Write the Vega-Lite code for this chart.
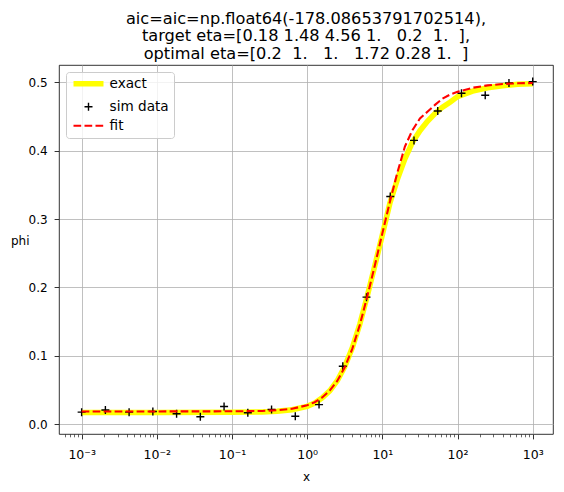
{
  "$schema": "https://vega.github.io/schema/vega-lite/v6.json",
  "width": 494,
  "height": 369,
  "autosize": {"type": "none"},
  "padding": {"left": 59, "top": 65, "right": 11, "bottom": 58},
  "background": "white",
  "config": {
    "font": "DejaVu Sans",
    "view": {"stroke": "black", "strokeWidth": 0.8}
  },
  "title": {
    "text": [
      "aic=aic=np.float64(-178.08653791702514),",
      "target eta=[0.18\u00a01.48\u00a04.56\u00a01.\u00a0\u00a0\u00a00.2\u00a0\u00a01.\u00a0\u00a0],",
      "optimal eta=[0.2\u00a0\u00a01.\u00a0\u00a0\u00a01.\u00a0\u00a0\u00a01.72\u00a00.28\u00a01.\u00a0\u00a0]"
    ],
    "font": "DejaVu Sans",
    "fontSize": 16.2,
    "fontWeight": "normal",
    "color": "black",
    "anchor": "middle",
    "lineHeight": 17.5,
    "offset": 3
  },
  "data": {
    "values": [
      {"series": "exact", "x": 0.001, "phi": 0.017},
      {"series": "exact", "x": 0.01, "phi": 0.017},
      {"series": "exact", "x": 0.1, "phi": 0.0172},
      {"series": "exact", "x": 0.2512, "phi": 0.0178},
      {"series": "exact", "x": 0.3981, "phi": 0.0188},
      {"series": "exact", "x": 0.631, "phi": 0.021},
      {"series": "exact", "x": 1, "phi": 0.026},
      {"series": "exact", "x": 1.2589, "phi": 0.0309},
      {"series": "exact", "x": 1.5849, "phi": 0.0384},
      {"series": "exact", "x": 1.9953, "phi": 0.0486},
      {"series": "exact", "x": 2.5119, "phi": 0.0634},
      {"series": "exact", "x": 3.1623, "phi": 0.0841},
      {"series": "exact", "x": 3.9811, "phi": 0.1115},
      {"series": "exact", "x": 5.0119, "phi": 0.146},
      {"series": "exact", "x": 6.3096, "phi": 0.1876},
      {"series": "exact", "x": 7.9433, "phi": 0.2317},
      {"series": "exact", "x": 10, "phi": 0.2768},
      {"series": "exact", "x": 12.589, "phi": 0.323},
      {"series": "exact", "x": 15.849, "phi": 0.358},
      {"series": "exact", "x": 19.953, "phi": 0.388},
      {"series": "exact", "x": 25.119, "phi": 0.4121},
      {"series": "exact", "x": 31.623, "phi": 0.4292},
      {"series": "exact", "x": 39.811, "phi": 0.443},
      {"series": "exact", "x": 50.119, "phi": 0.4544},
      {"series": "exact", "x": 63.096, "phi": 0.4635},
      {"series": "exact", "x": 79.433, "phi": 0.4709},
      {"series": "exact", "x": 100, "phi": 0.479},
      {"series": "exact", "x": 158.49, "phi": 0.487},
      {"series": "exact", "x": 251.19, "phi": 0.492},
      {"series": "exact", "x": 398.11, "phi": 0.495},
      {"series": "exact", "x": 630.96, "phi": 0.497},
      {"series": "exact", "x": 1000, "phi": 0.498},
      {"series": "sim data", "x": 0.001, "phi": 0.0175},
      {"series": "sim data", "x": 0.00207, "phi": 0.0205},
      {"series": "sim data", "x": 0.00428, "phi": 0.0175},
      {"series": "sim data", "x": 0.00886, "phi": 0.0185},
      {"series": "sim data", "x": 0.01833, "phi": 0.0151},
      {"series": "sim data", "x": 0.03793, "phi": 0.0107},
      {"series": "sim data", "x": 0.07848, "phi": 0.0258},
      {"series": "sim data", "x": 0.16238, "phi": 0.0166},
      {"series": "sim data", "x": 0.33598, "phi": 0.0214},
      {"series": "sim data", "x": 0.69519, "phi": 0.0115},
      {"series": "sim data", "x": 1.43845, "phi": 0.0285},
      {"series": "sim data", "x": 2.97635, "phi": 0.0847},
      {"series": "sim data", "x": 6.15848, "phi": 0.1857},
      {"series": "sim data", "x": 12.74275, "phi": 0.333},
      {"series": "sim data", "x": 26.36651, "phi": 0.415},
      {"series": "sim data", "x": 54.55595, "phi": 0.458},
      {"series": "sim data", "x": 112.88379, "phi": 0.484},
      {"series": "sim data", "x": 233.57215, "phi": 0.481},
      {"series": "sim data", "x": 483.29302, "phi": 0.499},
      {"series": "sim data", "x": 1000, "phi": 0.501},
      {"series": "fit", "x": 0.001, "phi": 0.0185},
      {"series": "fit", "x": 0.01, "phi": 0.0185},
      {"series": "fit", "x": 0.1, "phi": 0.0187},
      {"series": "fit", "x": 0.2512, "phi": 0.0192},
      {"series": "fit", "x": 0.3981, "phi": 0.0202},
      {"series": "fit", "x": 0.631, "phi": 0.0225},
      {"series": "fit", "x": 1, "phi": 0.0275},
      {"series": "fit", "x": 1.2589, "phi": 0.032},
      {"series": "fit", "x": 1.5849, "phi": 0.039},
      {"series": "fit", "x": 1.9953, "phi": 0.049},
      {"series": "fit", "x": 2.5119, "phi": 0.063},
      {"series": "fit", "x": 3.1623, "phi": 0.083},
      {"series": "fit", "x": 3.9811, "phi": 0.11},
      {"series": "fit", "x": 5.0119, "phi": 0.145},
      {"series": "fit", "x": 6.3096, "phi": 0.187},
      {"series": "fit", "x": 7.9433, "phi": 0.232},
      {"series": "fit", "x": 10, "phi": 0.279},
      {"series": "fit", "x": 12.589, "phi": 0.325},
      {"series": "fit", "x": 15.849, "phi": 0.368},
      {"series": "fit", "x": 19.953, "phi": 0.406},
      {"series": "fit", "x": 25.119, "phi": 0.43},
      {"series": "fit", "x": 31.623, "phi": 0.447},
      {"series": "fit", "x": 39.811, "phi": 0.457},
      {"series": "fit", "x": 50.119, "phi": 0.467},
      {"series": "fit", "x": 63.096, "phi": 0.476},
      {"series": "fit", "x": 79.433, "phi": 0.482},
      {"series": "fit", "x": 100, "phi": 0.486},
      {"series": "fit", "x": 158.49, "phi": 0.492},
      {"series": "fit", "x": 251.19, "phi": 0.4955},
      {"series": "fit", "x": 398.11, "phi": 0.4975},
      {"series": "fit", "x": 630.96, "phi": 0.4985},
      {"series": "fit", "x": 1000, "phi": 0.499}
    ]
  },
  "encoding": {
    "x": {
      "field": "x",
      "type": "quantitative",
      "scale": {"type": "log", "domain": [0.0005, 1862], "nice": false},
      "axis": {
        "title": "x",
        "titleFontSize": 12,
        "titleFontWeight": "normal",
        "titleColor": "black",
        "titleY": 46,
        "titleBaseline": "alphabetic",
        "values": [0.0006, 0.0007, 0.0008, 0.0009, 0.001,
                   0.002, 0.003, 0.004, 0.005, 0.006, 0.007, 0.008, 0.009, 0.01,
                   0.02, 0.03, 0.04, 0.05, 0.06, 0.07, 0.08, 0.09, 0.1,
                   0.2, 0.3, 0.4, 0.5, 0.6, 0.7, 0.8, 0.9, 1,
                   2, 3, 4, 5, 6, 7, 8, 9, 10,
                   20, 30, 40, 50, 60, 70, 80, 90, 100,
                   200, 300, 400, 500, 600, 700, 800, 900, 1000],
        "labelExpr": "datum.value === 0.001 ? '10⁻³' : datum.value === 0.01 ? '10⁻²' : datum.value === 0.1 ? '10⁻¹' : datum.value === 1 ? '10⁰' : datum.value === 10 ? '10¹' : datum.value === 100 ? '10²' : datum.value === 1000 ? '10³' : ''",
        "labelFontSize": 12.5,
        "labelColor": "black",
        "labelPadding": 10,
        "labelFlush": false,
        "labelOverlap": false,
        "labelBound": false,
        "tickColor": "black",
        "tickSize": {"condition": {"test": "indexof([0.001, 0.01, 0.1, 1, 10, 100, 1000], datum.value) >= 0", "value": 4.9}, "value": 2.8},
        "tickWidth": {"condition": {"test": "indexof([0.001, 0.01, 0.1, 1, 10, 100, 1000], datum.value) >= 0", "value": 0.8}, "value": 0.6},
        "grid": true,
        "gridColor": "#b0b0b0",
        "gridWidth": 0.8,
        "gridOpacity": {"condition": {"test": "indexof([0.001, 0.01, 0.1, 1, 10, 100, 1000], datum.value) >= 0", "value": 1}, "value": 0},
        "domain": false
      }
    },
    "y": {
      "field": "phi",
      "type": "quantitative",
      "scale": {"domain": [-0.0145, 0.5253], "nice": false, "zero": false},
      "axis": {
        "title": "phi",
        "titleFontSize": 12,
        "titleFontWeight": "normal",
        "titleColor": "black",
        "titleAngle": 0,
        "titleAlign": "right",
        "titleBaseline": "alphabetic",
        "titleX": -30,
        "titleY": 179,
        "values": [0, 0.1, 0.2, 0.3, 0.4, 0.5],
        "format": ".1f",
        "labelFontSize": 12,
        "labelColor": "black",
        "labelPadding": 7,
        "tickColor": "black",
        "tickSize": 4.9,
        "tickWidth": 0.8,
        "grid": true,
        "gridColor": "#b0b0b0",
        "gridWidth": 0.8,
        "domain": false
      }
    },
    "color": {
      "field": "series",
      "type": "nominal",
      "scale": {"domain": ["exact", "sim data", "fit"], "range": ["#ffff00", "#000000", "#ff0000"]},
      "legend": {
        "title": null,
        "orient": "none",
        "legendX": 7,
        "legendY": 7,
        "direction": "vertical",
        "fillColor": "rgba(255,255,255,0.8)",
        "strokeColor": "#cccccc",
        "cornerRadius": 3,
        "padding": 5,
        "labelFontSize": 13.6,
        "labelColor": "black",
        "labelOffset": 25,
        "rowPadding": 4,
        "symbolSize": 784,
        "encode": {
          "symbols": {
            "update": {
              "x": {"value": 17.5},
              "shape": {"signal": "datum.value === 'sim data' ? 'M-1,0H1M0,-1V1' : 'M-1,0H1'"},
              "size": {"signal": "datum.value === 'sim data' ? 64 : 900"},
              "stroke": {"signal": "datum.value === 'exact' ? '#ffff00' : datum.value === 'fit' ? '#ff0000' : '#000000'"},
              "strokeWidth": {"signal": "datum.value === 'exact' ? 5.5 : datum.value === 'fit' ? 2.1 : 1.4"},
              "strokeDash": {"signal": "datum.value === 'fit' ? [7.7, 3.3] : [1, 0]"},
              "fill": {"value": "transparent"},
              "opacity": {"value": 1}
            }
          }
        }
      }
    }
  },
  "layer": [
    {
      "transform": [{"filter": "datum.series === 'exact'"}],
      "mark": {"type": "line", "strokeWidth": 5.5}
    },
    {
      "transform": [{"filter": "datum.series === 'sim data'"}],
      "mark": {"type": "point", "shape": "M-1,0H1M0,-1V1", "size": 64, "strokeWidth": 1.4, "opacity": 1, "filled": false}
    },
    {
      "transform": [{"filter": "datum.series === 'fit'"}],
      "mark": {"type": "line", "strokeWidth": 2.1, "strokeDash": [7.7, 3.3]}
    }
  ]
}
